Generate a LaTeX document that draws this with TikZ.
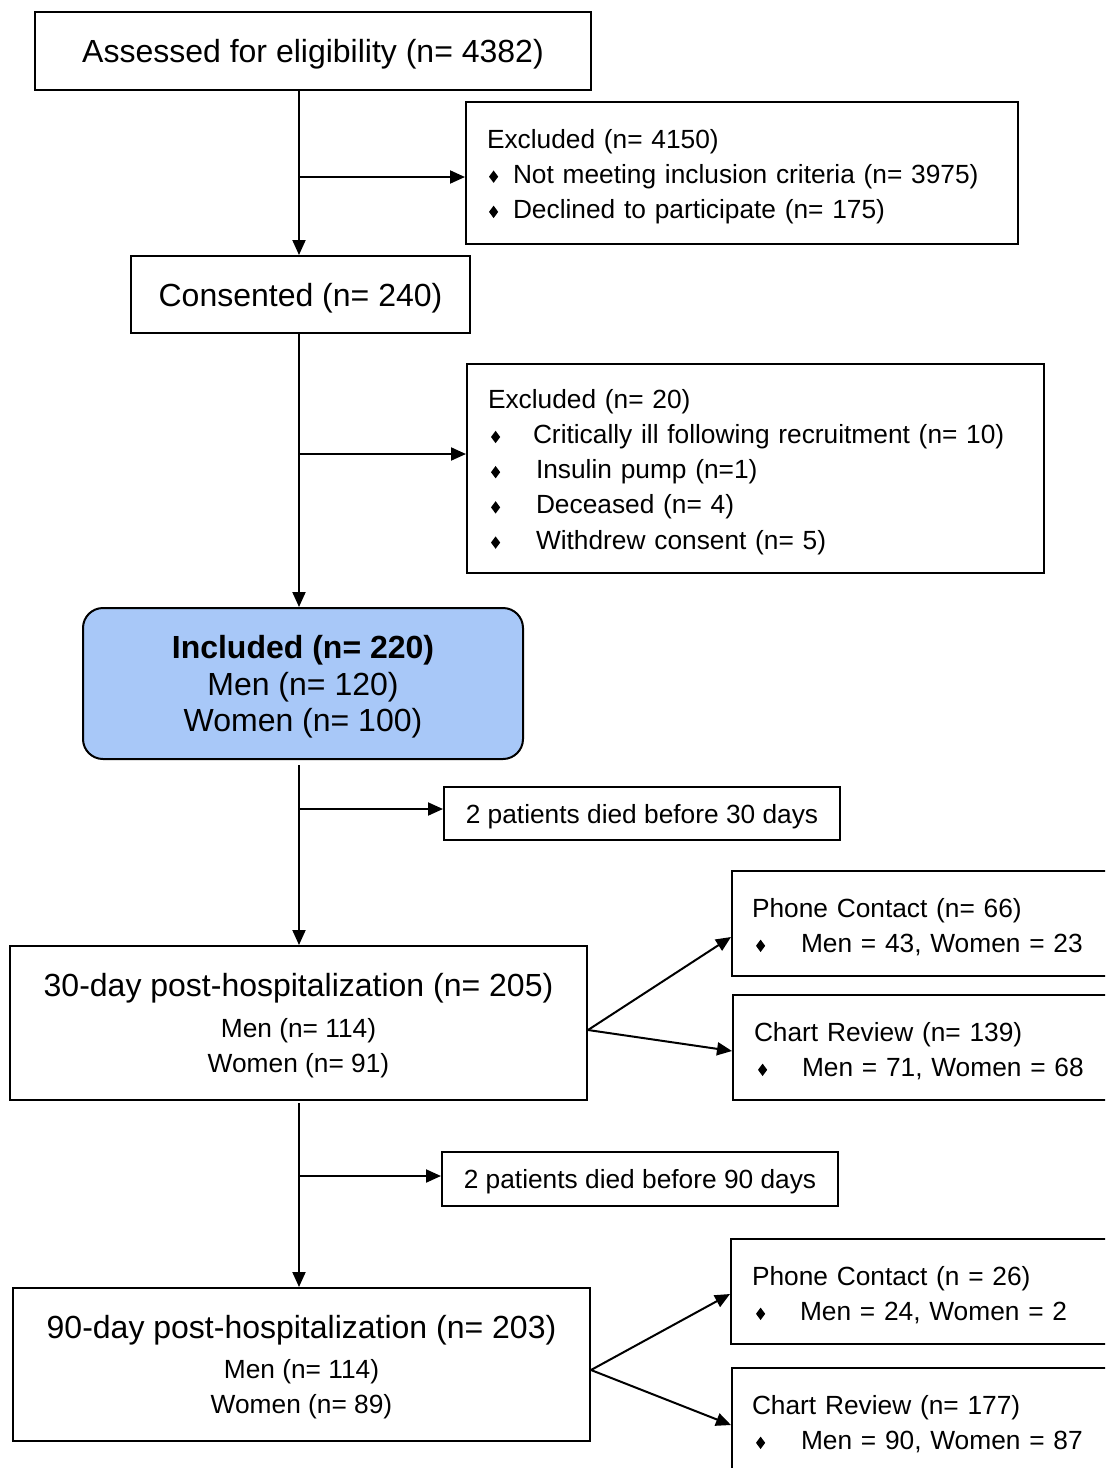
\documentclass[tikz,border=0pt]{standalone}
\usepackage{fontspec}
\setmainfont{Liberation Sans}
\usetikzlibrary{arrows.meta}
\definecolor{incblue}{RGB}{168,200,248}
\newcommand{\fbig}{\fontsize{16}{18.25}\selectfont}
\newcommand{\fsmall}{\fontsize{13.15}{17.6}\selectfont}
\newcommand{\bul}{\tikz[x=1pt,y=1pt,baseline=0pt]\fill[black] (0,3.3)--(2.3,6.4)--(4.6,3.3)--(2.3,0.2)--cycle;}
\begin{document}
\begin{tikzpicture}[x=0.5pt,y=-0.5pt,
  box/.style={draw, line width=1pt, inner sep=0pt},
  cbox/.style={box, text depth=0pt},
  lbox/.style={box, align=left, font=\fsmall, execute at begin node={\rule{0pt}{13pt}}},
  arr/.style={line width=1pt, -{Triangle[length=7.5pt,width=6.5pt]}}]
\path[use as bounding box, fill=white] (0,0) rectangle (1105,1468);
\clip (0,0) rectangle (1105,1468);

\node[cbox, minimum width=278pt, minimum height=39pt, font=\fbig] (assess) at (313,51) {Assessed for eligibility (n= 4382)};

\node[lbox, text width=255pt, inner xsep=10.5pt, minimum height=71pt] (excl1) at (742,173)
 {Excluded (n= 4150)\\
  \makebox[13pt][l]{\hspace{1pt}\bul}Not meeting inclusion criteria (n= 3975)\\
  \makebox[13pt][l]{\hspace{1pt}\bul}Declined to participate (n= 175)};

\node[cbox, minimum width=169.5pt, minimum height=38.5pt, font=\fbig] (consent) at (300.5,294.5) {Consented (n= 240)};

\node[lbox, text width=267.5pt, inner xsep=10.5pt, minimum height=104.5pt] (excl2) at (755.5,468.5)
 {Excluded (n= 20)\\
  \makebox[22.5pt][l]{\hspace{1.5pt}\bul}Critically ill following recruitment (n= 10)\\
  \makebox[24pt][l]{\hspace{1.5pt}\bul}Insulin pump (n=1)\\
  \makebox[24pt][l]{\hspace{1.5pt}\bul}Deceased (n= 4)\\
  \makebox[24pt][l]{\hspace{1.5pt}\bul}Withdrew consent (n= 5)};

\node[cbox, rounded corners=10pt, fill=incblue, minimum width=220pt, minimum height=75.5pt, align=center, font=\fbig] (inc) at (303,683.5)
 {\textbf{Included (n= 220)}\\ Men (n= 120)\\ Women (n= 100)};

\node[cbox, minimum width=198pt, minimum height=26.5pt, font=\fsmall] (die30) at (642,813.5) {2 patients died before 30 days};

\node[cbox, minimum width=288.5pt, minimum height=77pt, align=center, font=\fsmall] (d30) at (298.5,1023)
 {{\fbig 30-day post-hospitalization (n= 205)}\\[2.5pt] Men (n= 114)\\ Women (n= 91)};

\node[lbox, text width=171.5pt, inner xsep=10pt, minimum height=52.5pt] (ph1) at (923.5,923.5)
 {Phone Contact (n= 66)\\ \makebox[24.5pt][l]{\hspace{2pt}\bul}Men = 43, Women = 23};

\node[lbox, text width=170pt, inner xsep=10.5pt, minimum height=52.5pt] (ch1) at (924,1047.5)
 {Chart Review (n= 139)\\ \makebox[24pt][l]{\hspace{2pt}\bul}Men = 71, Women = 68};

\node[cbox, minimum width=198pt, minimum height=27pt, font=\fsmall] (die90) at (640,1179) {2 patients died before 90 days};

\node[cbox, minimum width=288.5pt, minimum height=76.5pt, align=center, font=\fsmall] (d90) at (301.5,1364.5)
 {{\fbig 90-day post-hospitalization (n= 203)}\\[2pt] Men (n= 114)\\ Women (n= 89)};

\node[lbox, text width=171.5pt, inner xsep=10.5pt, minimum height=52.5pt] (ph2) at (923.5,1291.5)
 {Phone Contact (n = 26)\\ \makebox[24pt][l]{\hspace{2pt}\bul}Men = 24, Women = 2};

\node[lbox, text width=171.5pt, inner xsep=10pt, minimum height=52.5pt] (ch2) at (923.5,1420.5)
 {Chart Review (n= 177)\\ \makebox[24.5pt][l]{\hspace{2pt}\bul}Men = 90, Women = 87};

% spine
\coordinate (spine) at (299,0);
\coordinate (b1) at (299,177);
\coordinate (b2) at (299,454);
\coordinate (b3) at (299,809);
\coordinate (b4) at (299,1176);
\coordinate (s3) at (299,765);
\coordinate (s4) at (299,1103);

\draw[arr] (assess.south -| spine) -- (consent.north -| spine);
\draw[arr] (b1) -- (b1 -| excl1.west);
\draw[arr] (consent.south -| spine) -- (inc.north -| spine);
\draw[arr] (b2) -- (b2 -| excl2.west);
\draw[arr] (s3) -- (d30.north -| spine);
\draw[arr] (b3) -- (b3 -| die30.west);
\draw[arr] (s4) -- (d90.north -| spine);
\draw[arr] (b4) -- (b4 -| die90.west);

\draw[arr] ([yshift=-3.5pt]d30.east) -- ([yshift=-6.75pt]ph1.west);
\draw[arr] ([yshift=-3.5pt]d30.east) -- ([yshift=-1.75pt]ch1.west);
\draw[arr] ([yshift=-2.75pt]d90.east) -- ([yshift=-1.25pt]ph2.west);
\draw[arr] ([yshift=-2.75pt]d90.east) -- ([yshift=-2.25pt]ch2.west);
\end{tikzpicture}
\end{document}
